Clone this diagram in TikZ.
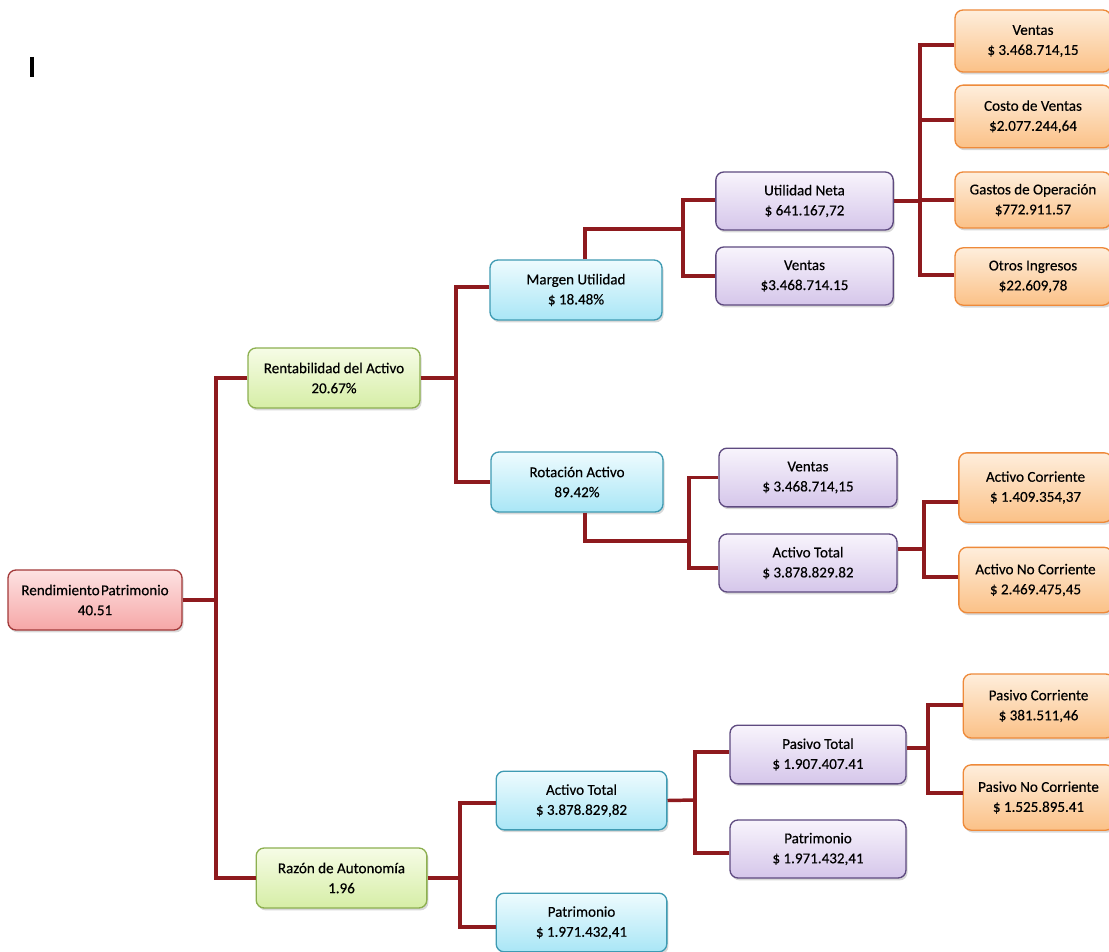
\documentclass[tikz,border=0pt]{standalone}
\usepackage{fontspec}
\setmainfont{Carlito}[FakeBold=0.35]
\usetikzlibrary{shadows}
\definecolor{lnk}{HTML}{8E1A1E}
\definecolor{pinkD}{HTML}{A33A3A}\definecolor{pinkT}{HTML}{FDE2E2}\definecolor{pinkB}{HTML}{F6A7A7}
\definecolor{grnD}{HTML}{8DB050}\definecolor{grnT}{HTML}{F6FCE6}\definecolor{grnB}{HTML}{D6EEA6}
\definecolor{cyD}{HTML}{3F9BB3}\definecolor{cyT}{HTML}{EEFBFE}\definecolor{cyB}{HTML}{A9E6F6}
\definecolor{puD}{HTML}{5E4A80}\definecolor{puT}{HTML}{F8F4FC}\definecolor{puB}{HTML}{D5C6EA}
\definecolor{orD}{HTML}{EE8A3A}\definecolor{orT}{HTML}{FEEEDC}\definecolor{orB}{HTML}{FBC187}
\begin{document}
\begin{tikzpicture}[x=0.75pt,y=-0.75pt,
  box/.style={rounded corners=6pt, align=center, inner sep=0pt,
    font=\fontsize{11.3}{15}\selectfont, line width=1pt,
    drop shadow={opacity=0.3,shadow xshift=1.2pt,shadow yshift=-1.8pt}},
  pinkbox/.style={box, draw=pinkD, top color=pinkT, bottom color=pinkB},
  grnbox/.style={box, draw=grnD, top color=grnT, bottom color=grnB},
  cybox/.style={box, draw=cyD, top color=cyT, bottom color=cyB},
  pubox/.style={box, draw=puD, top color=puT, bottom color=puB},
  orbox/.style={box, draw=orD, top color=orT, bottom color=orB},
  conn/.style={draw=lnk, line width=2.6pt}
]
\useasboundingbox (0,0) rectangle (1109,952);
\clip (0,0) rectangle (1109,952);
\fill[white] (0,0) rectangle (1109,952);

% cursor mark
\draw[black, line width=2.4pt] (32,57) -- (32,77);

% level 0
\node[pinkbox, minimum width=130.5pt, minimum height=45pt] (root) at (95,600) {Rendimiento\hspace{1pt}Patrimonio\\40.51};

% level 1
\node[grnbox, minimum width=129pt, minimum height=45pt] (rent) at (334,378) {Rentabilidad del Activo\\20.67\%};
\node[grnbox, minimum width=128pt, minimum height=45pt] (razon) at (341.5,878) {Razón de Autonomía\\1.96};

% level 2
\node[cybox, minimum width=129pt, minimum height=45pt] (margen) at (576,290) {Margen Utilidad\\\$ 18.48\%};
\node[cybox, minimum width=129pt, minimum height=45pt] (rot) at (577,482) {Rotación Activo\\89.42\%};
\node[cybox, minimum width=128pt, minimum height=44pt] (atc) at (581.5,800.5) {Activo Total\\\$ 3.878.829,82};
\node[cybox, minimum width=128pt, minimum height=44pt] (patc) at (581.5,922.5) {Patrimonio\\\$ 1.971.432,41};

% level 3
\node[pubox, minimum width=133pt, minimum height=43.5pt] (un) at (804.5,201) {Utilidad Neta\\\$ 641.167,72};
\node[pubox, minimum width=133pt, minimum height=43.5pt] (vt1) at (804.5,276) {Ventas\\\$3.468.714.15};
\node[pubox, minimum width=133.5pt, minimum height=44pt] (vt2) at (808,477.5) {Ventas\\\$ 3.468.714,15};
\node[pubox, minimum width=133.5pt, minimum height=43.5pt] (atp) at (808,563) {Activo Total\\\$ 3.878.829.82};
\node[pubox, minimum width=132pt, minimum height=44pt] (pt) at (818,754.5) {Pasivo Total\\\$ 1.907.407.41};
\node[pubox, minimum width=132pt, minimum height=43.5pt] (patp) at (818,849) {Patrimonio\\\$ 1.971.432,41};

% level 4
\node[orbox, minimum width=117pt, minimum height=46.5pt] (o1) at (1033,41) {Ventas\\\$ 3.468.714,15};
\node[orbox, minimum width=117pt, minimum height=47pt] (o2) at (1033,116.5) {Costo de Ventas\\\$2.077.244,64};
\node[orbox, minimum width=117pt, minimum height=42pt] (o3) at (1033,200) {Gastos de Operación\\\$772.911.57};
\node[orbox, minimum width=117pt, minimum height=43pt] (o4) at (1033,276.5) {Otros Ingresos\\\$22.609,78};
\node[orbox, minimum width=115pt, minimum height=52pt] (ac) at (1035.5,487.5) {Activo Corriente\\\$ 1.409.354,37};
\node[orbox, minimum width=115pt, minimum height=49pt] (anc) at (1035.5,580) {Activo No Corriente\\\$ 2.469.475,45};
\node[orbox, minimum width=113pt, minimum height=48pt] (pc) at (1038.5,706) {Pasivo Corriente\\\$ 381.511,46};
\node[orbox, minimum width=113pt, minimum height=49pt] (pnc) at (1038.5,797.5) {Pasivo No Corriente\\\$ 1.525.895.41};

% junctions
\coordinate (j0) at (216,600);
\coordinate (j1) at (456,378);
\coordinate (jm) at (683,229);
\coordinate (jr) at (689,541);
\coordinate (ju) at (920,201);
\coordinate (ja) at (924,549);
\coordinate (jz) at (460,878);
\coordinate (jt) at (695,800);
\coordinate (jp) at (928,748);

% connectors
\draw[conn] (root.east) -- (j0);
\draw[conn] (rent.west) -| (j0);
\draw[conn] (razon.west) -| (j0);

\draw[conn] (rent.east) -- (j1);
\draw[conn] (margen.west |- 0,287) -| (j1);
\draw[conn] (rot.west |- 0,482) -| (j1);

\draw[conn] ([xshift=6.75pt]margen.north) |- (jm);
\draw[conn] (un.west |- 0,200) -| (jm);
\draw[conn] (vt1.west) -| (jm);

\draw[conn] ([xshift=6pt]rot.south) |- (jr);
\draw[conn] (vt2.west) -| (jr);
\draw[conn] (atp.west |- 0,568) -| (jr);

\draw[conn] (un.east) -- (ju);
\draw[conn] (o1.west |- 0,45) -| (ju);
\draw[conn] (o2.west |- 0,120) -| (ju);
\draw[conn] (o3.west) -| (ju);
\draw[conn] (o4.west |- 0,275) -| (ju);

\draw[conn] (atp.east |- ja) -- (ja);
\draw[conn] (ac.west |- 0,502) -| (ja);
\draw[conn] (anc.west |- 0,577) -| (ja);

\draw[conn] (razon.east) -- (jz);
\draw[conn] (atc.west |- 0,803) -| (jz);
\draw[conn] (patc.west |- 0,927) -| (jz);

\draw[conn] (atc.east) -- (jt);
\draw[conn] (pt.west |- 0,752) -| (jt);
\draw[conn] (patp.west |- 0,853) -| (jt);

\draw[conn] (pt.east |- jp) -- (jp);
\draw[conn] (pc.west |- 0,705) -| (jp);
\draw[conn] (pnc.west |- 0,793) -| (jp);
\end{tikzpicture}
\end{document}
